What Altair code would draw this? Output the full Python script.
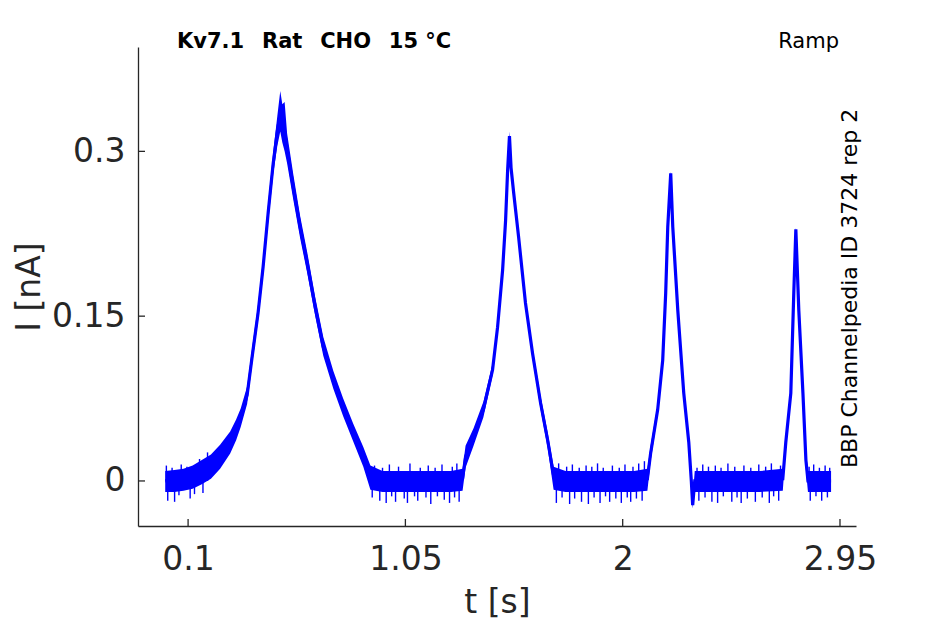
import altair as alt
import pandas as pd

# ---- data ----
T = [0.000, 0.040, 0.080, 0.120, 0.160, 0.200, 0.240, 0.284, 0.310, 0.330,
     0.358, 0.380, 0.406, 0.428, 0.450, 0.472, 0.490, 0.503, 0.512, 0.522,
     0.533, 0.560, 0.590, 0.621, 0.656, 0.691, 0.735, 0.778, 0.822, 0.866,
     0.897, 0.950, 1.050, 1.150, 1.250, 1.300, 1.313, 1.348, 1.391, 1.431,
     1.453, 1.475, 1.488, 1.497, 1.505, 1.512, 1.523, 1.545, 1.575, 1.606,
     1.641, 1.672, 1.698, 1.750, 1.850, 1.950, 2.050, 2.108, 2.122, 2.153,
     2.175, 2.188, 2.197, 2.210, 2.219, 2.241, 2.267, 2.289, 2.300, 2.306,
     2.315, 2.400, 2.500, 2.600, 2.700, 2.713, 2.735, 2.748, 2.757, 2.770,
     2.788, 2.801, 2.810, 2.860, 2.911]
I_MID = [0.000, 0.001, 0.002, 0.004, 0.009, 0.014, 0.022, 0.035, 0.046, 0.057,
         0.078, 0.113, 0.153, 0.195, 0.244, 0.289, 0.318, 0.335, 0.328, 0.318,
         0.302, 0.267, 0.231, 0.198, 0.158, 0.122, 0.092, 0.067, 0.044, 0.022,
         0.004, 0.000, 0.000, 0.000, 0.000, 0.002, 0.022, 0.040, 0.065, 0.101,
         0.140, 0.192, 0.237, 0.283, 0.314, 0.285, 0.263, 0.222, 0.162, 0.116,
         0.071, 0.037, 0.005, 0.000, 0.000, 0.000, 0.000, 0.002, 0.025, 0.065,
         0.110, 0.171, 0.231, 0.280, 0.231, 0.155, 0.080, 0.035, 0.000, -0.022,
         0.000, 0.000, 0.000, 0.000, 0.002, 0.035, 0.080, 0.171, 0.229, 0.155,
         0.080, 0.019, 0.000, 0.000, 0.000]
I_LO = [-0.010, -0.010, -0.009, -0.007, -0.003, 0.002, 0.011, 0.025, 0.037, 0.049,
        0.070, 0.106, 0.146, 0.187, 0.235, 0.279, 0.305, 0.318, 0.308, 0.300,
        0.289, 0.256, 0.221, 0.189, 0.150, 0.114, 0.084, 0.059, 0.036, 0.013,
        -0.008, -0.010, -0.010, -0.010, -0.010, -0.009, 0.012, 0.032, 0.058, 0.096,
        0.136, 0.188, 0.233, 0.279, 0.308, 0.279, 0.258, 0.217, 0.157, 0.111,
        0.065, 0.030, -0.008, -0.010, -0.010, -0.010, -0.010, -0.009, 0.018, 0.060,
        0.106, 0.167, 0.227, 0.276, 0.227, 0.151, 0.076, 0.030, -0.006, -0.025,
        -0.010, -0.010, -0.010, -0.010, -0.009, 0.030, 0.076, 0.167, 0.225, 0.151,
        0.076, 0.010, -0.010, -0.010, -0.010]
I_HI = [0.009, 0.010, 0.011, 0.014, 0.019, 0.024, 0.033, 0.045, 0.056, 0.066,
        0.086, 0.121, 0.161, 0.203, 0.253, 0.299, 0.332, 0.355, 0.343, 0.345,
        0.316, 0.279, 0.241, 0.208, 0.167, 0.131, 0.100, 0.075, 0.052, 0.031,
        0.014, 0.009, 0.009, 0.009, 0.009, 0.011, 0.032, 0.048, 0.072, 0.107,
        0.145, 0.197, 0.242, 0.288, 0.318, 0.292, 0.268, 0.227, 0.167, 0.121,
        0.077, 0.044, 0.013, 0.009, 0.009, 0.009, 0.009, 0.011, 0.032, 0.070,
        0.114, 0.175, 0.235, 0.282, 0.235, 0.159, 0.084, 0.040, 0.006, -0.015,
        0.009, 0.009, 0.009, 0.009, 0.011, 0.040, 0.084, 0.175, 0.231, 0.159,
        0.084, 0.028, 0.009, 0.009, 0.009]

# visible noise spikes on the baselines (downward and upward)
DOWN_T = [0.011, 0.041, 0.060, 0.109, 0.128, 0.165,
          0.905, 0.938, 0.966, 0.990, 1.007, 1.045, 1.059, 1.090, 1.104, 1.140,
          1.161, 1.190, 1.220, 1.243, 1.265, 1.285,
          1.710, 1.735, 1.768, 1.790, 1.820, 1.850, 1.875, 1.901, 1.925, 1.943,
          1.970, 1.994, 2.020, 2.035, 2.060, 2.085,
          2.333, 2.360, 2.390, 2.415, 2.440, 2.477, 2.500, 2.518, 2.545, 2.580,
          2.610, 2.641, 2.660, 2.682,
          2.820, 2.845, 2.870, 2.895]
DOWN_I = [-0.018, -0.019, -0.013, -0.016, -0.012, -0.011,
          -0.015, -0.018, -0.020, -0.014, -0.019, -0.016, -0.020, -0.014, -0.018, -0.015,
          -0.021, -0.014, -0.017, -0.020, -0.015, -0.019,
          -0.020, -0.015, -0.021, -0.016, -0.019, -0.021, -0.015, -0.020, -0.014, -0.019,
          -0.016, -0.020, -0.015, -0.019, -0.016, -0.018,
          -0.018, -0.015, -0.019, -0.020, -0.014, -0.019, -0.015, -0.020, -0.016, -0.019,
          -0.015, -0.020, -0.014, -0.018,
          -0.018, -0.014, -0.018, -0.015]
UP_T = [0.005, 0.030, 0.070, 0.095, 0.150, 0.185,
        0.915, 0.950, 0.980, 1.020, 1.070, 1.115, 1.150, 1.180, 1.210, 1.255, 1.275,
        1.720, 1.755, 1.780, 1.810, 1.840, 1.865, 1.890, 1.915, 1.955, 1.985, 2.010,
        2.045, 2.070, 2.095,
        2.325, 2.350, 2.375, 2.405, 2.430, 2.460, 2.490, 2.530, 2.560, 2.595, 2.625,
        2.650, 2.690,
        2.815, 2.835, 2.860, 2.885, 2.905]
UP_I = [0.014, 0.012, 0.015, 0.013, 0.020, 0.026,
        0.014, 0.012, 0.015, 0.013, 0.016, 0.012, 0.014, 0.012, 0.015, 0.013, 0.016,
        0.016, 0.013, 0.015, 0.012, 0.014, 0.013, 0.016, 0.012, 0.014, 0.012, 0.015,
        0.013, 0.016, 0.018,
        0.012, 0.015, 0.013, 0.014, 0.012, 0.016, 0.013, 0.014, 0.012, 0.015, 0.013,
        0.016, 0.014,
        0.013, 0.015, 0.012, 0.014, 0.012]

X_TICKS = [0.1, 1.05, 2, 2.95]
Y_TICKS = [0, 0.15, 0.3]
X_DOMAIN = [-0.119, 3.02]
Y_DOMAIN = [-0.041, 0.395]

GAP = "\u2002\u00a0"
TITLE = f"Kv7.1{GAP}Rat{GAP}CHO{GAP}15\u00a0°C"
PROTOCOL = "Ramp"
SOURCE = "BBP Channelpedia ID 3724 rep 2"

W, H = 718, 479
BLUE = "#0000ff"
AX = "#262626"
FONT = "DejaVu Sans"

trace = pd.DataFrame({"t": T, "mid": I_MID, "lo": I_LO, "hi": I_HI})
spikes = pd.DataFrame({"t": DOWN_T + UP_T, "v": DOWN_I + UP_I})
xt = pd.DataFrame({"v": X_TICKS})
yt = pd.DataFrame({"v": Y_TICKS})

xs = alt.Scale(domain=X_DOMAIN, nice=False, zero=False)
ys = alt.Scale(domain=Y_DOMAIN, nice=False, zero=False)

LABEL_EXPR = "'' + datum.value"
x_axis = alt.Axis(values=X_TICKS, labelExpr=LABEL_EXPR, title="t [s]", grid=False,
                  ticks=False, tickSize=0, labelFontSize=33, titleFontSize=33,
                  labelPadding=17, titlePadding=10, labelFlush=False,
                  domainColor=AX, domainWidth=1.3, labelColor=AX, titleColor=AX,
                  labelFont=FONT, titleFont=FONT, titleFontWeight="normal")
y_axis = alt.Axis(values=Y_TICKS, labelExpr=LABEL_EXPR, title="I [nA]", grid=False,
                  ticks=False, tickSize=0, labelFontSize=33, titleFontSize=33,
                  labelPadding=13, titlePadding=5, labelFlush=False,
                  domainColor=AX, domainWidth=1.3, labelColor=AX, titleColor=AX,
                  labelFont=FONT, titleFont=FONT, titleFontWeight="normal")

band = alt.Chart(trace).mark_area(color=BLUE, opacity=1).encode(
    x=alt.X("t:Q", scale=xs, axis=x_axis),
    y=alt.Y("lo:Q", scale=ys, axis=y_axis),
    y2="hi:Q",
)
line = alt.Chart(trace).mark_line(color=BLUE, strokeWidth=3.2).encode(
    x=alt.X("t:Q", scale=xs), y=alt.Y("mid:Q", scale=ys)
)
noise = alt.Chart(spikes).mark_rule(color=BLUE, strokeWidth=1.4).encode(
    x=alt.X("t:Q", scale=xs), y=alt.Y("v:Q", scale=ys), y2=alt.datum(0)
)
xticks = alt.Chart(xt).mark_rule(color=AX, strokeWidth=1.3).encode(
    x=alt.X("v:Q", scale=xs), y=alt.value(H), y2=alt.value(H - 7)
)
yticks = alt.Chart(yt).mark_rule(color=AX, strokeWidth=1.3).encode(
    y=alt.Y("v:Q", scale=ys), x=alt.value(0), x2=alt.value(7)
)

title = alt.Chart(pd.DataFrame({"s": [TITLE]})).mark_text(
    font=FONT, fontSize=21, fontWeight="bold", color="black", align="left",
    baseline="alphabetic"
).encode(text="s:N", x=alt.value(39), y=alt.value(1))
proto = alt.Chart(pd.DataFrame({"s": [PROTOCOL]})).mark_text(
    font=FONT, fontSize=21, color="black", align="right", baseline="alphabetic"
).encode(text="s:N", x=alt.value(701), y=alt.value(1))
source = alt.Chart(pd.DataFrame({"s": [SOURCE]})).mark_text(
    font=FONT, fontSize=22, color="black", align="left", baseline="middle",
    angle=270
).encode(text="s:N", x=alt.value(712), y=alt.value(421))

chart = alt.layer(band, line, noise, xticks, yticks, title, proto, source).properties(
    width=W, height=H,
    padding={"left": 130, "top": 39, "right": 60, "bottom": 96},
    autosize=alt.AutoSizeParams(type="none"),
).configure_view(stroke=None)

chart.save("out.html", embed_options={"renderer": "svg", "actions": False})
